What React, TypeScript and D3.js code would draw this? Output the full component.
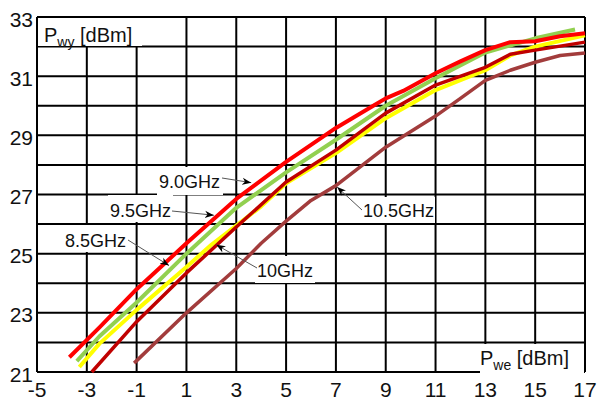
import * as d3 from 'd3';

// input power [dBm] and output power [dBm] per frequency
const x95 = [-3.7, -2.5, -1, 1, 3, 5, 7, 8.5, 9, 9.7, 11, 12, 13, 14, 15, 16, 17];
const y95 = [21.5, 22.5, 23.8, 25.35, 26.85, 28.1, 29.25, 30.0, 30.25, 30.5, 31.1, 31.5, 31.88, 32.15, 32.18, 32.35, 32.45];
const x90 = [-3.4, -2.5, -1, 1, 3, 5, 7, 9, 11, 13, 15, 16.6];
const y90 = [21.37, 22.2, 23.35, 25.0, 26.55, 27.75, 28.85, 30.0, 30.93, 31.8, 32.28, 32.58];
const x85 = [-3.3, -2.5, -1, 1, 2, 3, 4, 5, 7, 9, 11, 13, 14, 15, 17];
const y85 = [21.17, 21.95, 23.1, 24.55, 25.3, 25.95, 26.6, 27.38, 28.4, 29.58, 30.53, 31.2, 31.7, 32.0, 32.38];
const x100 = [-2.8, -1, 1, 3, 5, 7, 9, 11, 13, 14, 15, 17];
const y100 = [21.0, 22.7, 24.35, 25.9, 27.42, 28.5, 29.75, 30.7, 31.3, 31.74, 31.88, 32.15];
const x105 = [-1.1, 1, 3, 4, 5, 6, 7, 9, 11, 12, 13, 14, 15, 16, 17];
const y105 = [21.3, 23.0, 24.5, 25.35, 26.1, 26.8, 27.3, 28.6, 29.65, 30.25, 30.86, 31.2, 31.47, 31.7, 31.78];

const xTicks = [-5, -3, -1, 1, 3, 5, 7, 9, 11, 13, 15, 17];
const yTicks = [21, 22, 23, 24, 25, 26, 27, 28, 29, 30, 31, 32, 33];
const yLabels = [21, 23, 25, 27, 29, 31, 33];

const font = '"Liberation Sans", Arial, sans-serif';

export default function App() {
  const x = d3.scaleLinear().domain([-5, 17]).range([37, 585]);
  const y = d3.scaleLinear().domain([21, 33]).range([372, 17]);

  const line = d3.line<[number, number]>()
    .x(d => x(d[0]))
    .y(d => y(d[1]));

  const series = [
    { xs: x105, ys: y105, color: '#a23c3c', w: 3.5 },
    { xs: x85, ys: y85, color: '#ffff00', w: 4 },
    { xs: x100, ys: y100, color: '#c00000', w: 3.5 },
    { xs: x90, ys: y90, color: '#92d050', w: 4 },
    { xs: x95, ys: y95, color: '#ff0000', w: 4 },
  ];

  // label box, text position, leader start and arrow tip (in data units for the tip)
  const notes = [
    { text: '9.0GHz', box: [157, 167, 66, 28], tx: 159, ty: 188, from: [222, 178], to: [3.6, 27.4] },
    { text: '9.5GHz', box: [108, 195, 65, 27], tx: 110, ty: 217, from: [172, 211], to: [2.1, 26.3] },
    { text: '8.5GHz', box: [63, 225, 65, 27], tx: 65, ty: 247, from: [128, 240], to: [0.3, 24.6] },
    { text: '10GHz', box: [255, 256, 60, 27], tx: 257, ty: 277, from: [257, 268], to: [2.2, 25.3] },
    { text: '10.5GHz', box: [361, 197, 74, 26], tx: 363, ty: 217, from: [362, 210], to: [7.05, 27.25] },
  ];

  return (
    <svg width={599} height={398} style={{ position: 'absolute', left: 0, top: 0 }} fontFamily={font}>
      <defs>
        <marker id="arr" viewBox="0 0 10 10" refX={10} refY={5} markerWidth={9} markerHeight={9}
          markerUnits="userSpaceOnUse" orient="auto">
          <path d="M0,1 L10,5 L0,9 L3,5 Z" fill="#000" />
        </marker>
      </defs>
      <rect width={599} height={398} fill="#fff" />
      {xTicks.map(t => (
        <line key={'vx' + t} x1={x(t)} x2={x(t)} y1={y(21)} y2={y(33)} stroke="#000" strokeWidth={2} />
      ))}
      {yTicks.map(t => (
        <line key={'hy' + t} x1={x(-5)} x2={x(17)} y1={y(t)} y2={y(t)} stroke="#000" strokeWidth={2} />
      ))}
      {series.map((s, i) => (
        <path key={i} d={line(s.xs.map((v, j) => [v, s.ys[j]]) as [number, number][]) || ''}
          fill="none" stroke={s.color} strokeWidth={s.w} strokeLinejoin="round" />
      ))}
      {notes.map(n => (
        <g key={n.text}>
          <rect x={n.box[0]} y={n.box[1]} width={n.box[2]} height={n.box[3]} fill="#fff" />
          <text x={n.tx} y={n.ty} fontSize={18} fill="#111">{n.text}</text>
          <line x1={n.from[0]} y1={n.from[1]} x2={x(n.to[0])} y2={y(n.to[1])}
            stroke="#555" strokeWidth={1} markerEnd="url(#arr)" />
        </g>
      ))}
      <rect x={38} y={18} width={104} height={28} fill="#fff" />
      <text x={44} y={42} fontSize={20} fill="#111">
        P<tspan fontSize={14} dy={5}>wy</tspan><tspan dy={-5}> [dBm]</tspan>
      </text>
      <rect x={480} y={344} width={104} height={30} fill="#fff" />
      <text x={480} y={365} fontSize={20} fill="#111">
        P<tspan fontSize={14} dy={5}>we</tspan><tspan dy={-5}> [dBm]</tspan>
      </text>
      {yLabels.map(t => (
        <text key={'yl' + t} x={33} y={y(t) + 9.5} fontSize={21} textAnchor="end" fill="#111">{t}</text>
      ))}
      {xTicks.map(t => (
        <text key={'xl' + t} x={x(t)} y={397} fontSize={21} textAnchor="middle" fill="#111">{t}</text>
      ))}
    </svg>
  );
}
